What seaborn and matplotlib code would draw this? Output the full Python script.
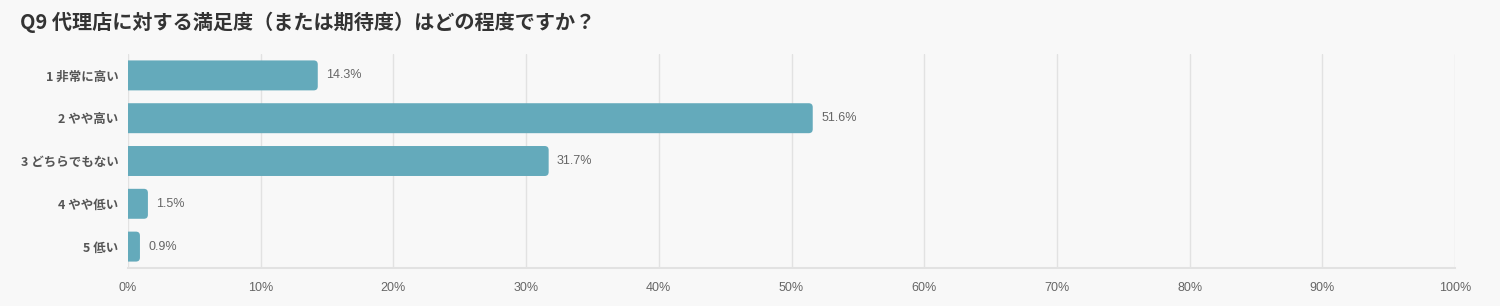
import matplotlib
matplotlib.use("Agg")
import matplotlib.pyplot as plt
import seaborn as sns
import pandas as pd
from matplotlib.ticker import FuncFormatter
from matplotlib.patches import FancyBboxPatch

categories = ["1 非常に高い", "2 やや高い", "3 どちらでもない", "4 やや低い", "5 低い"]
values = [14.3, 51.6, 31.7, 1.5, 0.9]
x_ticks = [0, 10, 20, 30, 40, 50, 60, 70, 80, 90, 100]
title = "Q9 代理店に対する満足度（または期待度）はどの程度ですか？"

sns.set_theme(style="whitegrid")
plt.rcParams['font.family'] = ['Noto Sans CJK JP', 'DejaVu Sans']

BG = "#f8f8f8"
BAR = "#64aabb"

df = pd.DataFrame({"cat": categories, "val": values})

fig = plt.figure(figsize=(15, 3.06), dpi=100, facecolor=BG)
ax = fig.add_axes([128/1500, 1-268/306, (1455-128)/1500, (268-54)/306])
ax.set_facecolor(BG)

sns.barplot(data=df, x="val", y="cat", orient="h", color=BAR, saturation=1,
            width=0.7, ax=ax, edgecolor=BAR, linewidth=0)

ax.set_xlim(0, 100)
ax.set_ylim(len(categories)-0.5, -0.5)

# rounded right corners, derived from the bars seaborn drew
fig.canvas.draw()
bb = ax.get_window_extent()
px_x = bb.width / 100.0
px_y = bb.height / len(categories)
r = 4.0 / px_x
asp = px_x / px_y
for p in list(ax.patches):
    x, y, w, h = p.get_x(), p.get_y(), p.get_width(), p.get_height()
    p.remove()
    fb = FancyBboxPatch((x - r, y), w + r, h,
                        boxstyle=f"round,pad=0,rounding_size={r}",
                        mutation_aspect=asp, facecolor=BAR, edgecolor="none",
                        clip_on=True, zorder=2)
    ax.add_patch(fb)

ax.set_xticks(x_ticks)
ax.xaxis.set_major_formatter(FuncFormatter(lambda v, p: f"{v:.0f}%"))
ax.set_xlabel("")
ax.set_ylabel("")
ax.set_axisbelow(True)
ax.grid(axis="x", color="#e2e2e2", linewidth=1)
ax.grid(axis="y", visible=False)
for s in ["top", "right", "left"]:
    ax.spines[s].set_visible(False)
ax.spines["bottom"].set_color("#e2e2e2")
ax.spines["bottom"].set_linewidth(1.5)
ax.tick_params(axis="x", length=0, pad=10, labelsize=9, labelcolor="#666666")
ax.tick_params(axis="y", length=0, pad=7, labelsize=9, labelcolor="#555555")
for lab in ax.get_xticklabels():
    lab.set_family(['Liberation Sans', 'DejaVu Sans'])
for lab in ax.get_yticklabels():
    lab.set_fontweight("bold")

for i, v in enumerate(values):
    ax.annotate(f"{v}%", xy=(v, i), xytext=(6, 0), textcoords="offset points",
                va="center", ha="left", fontsize=9, color="#666666",
                family=['Liberation Sans', 'DejaVu Sans'])

fig.text(20/1500, 1-22/306, title, fontsize=14.5, fontweight="bold",
         color="#333333", va="center", ha="left")

fig.savefig("out.png", dpi=100, facecolor=BG)
